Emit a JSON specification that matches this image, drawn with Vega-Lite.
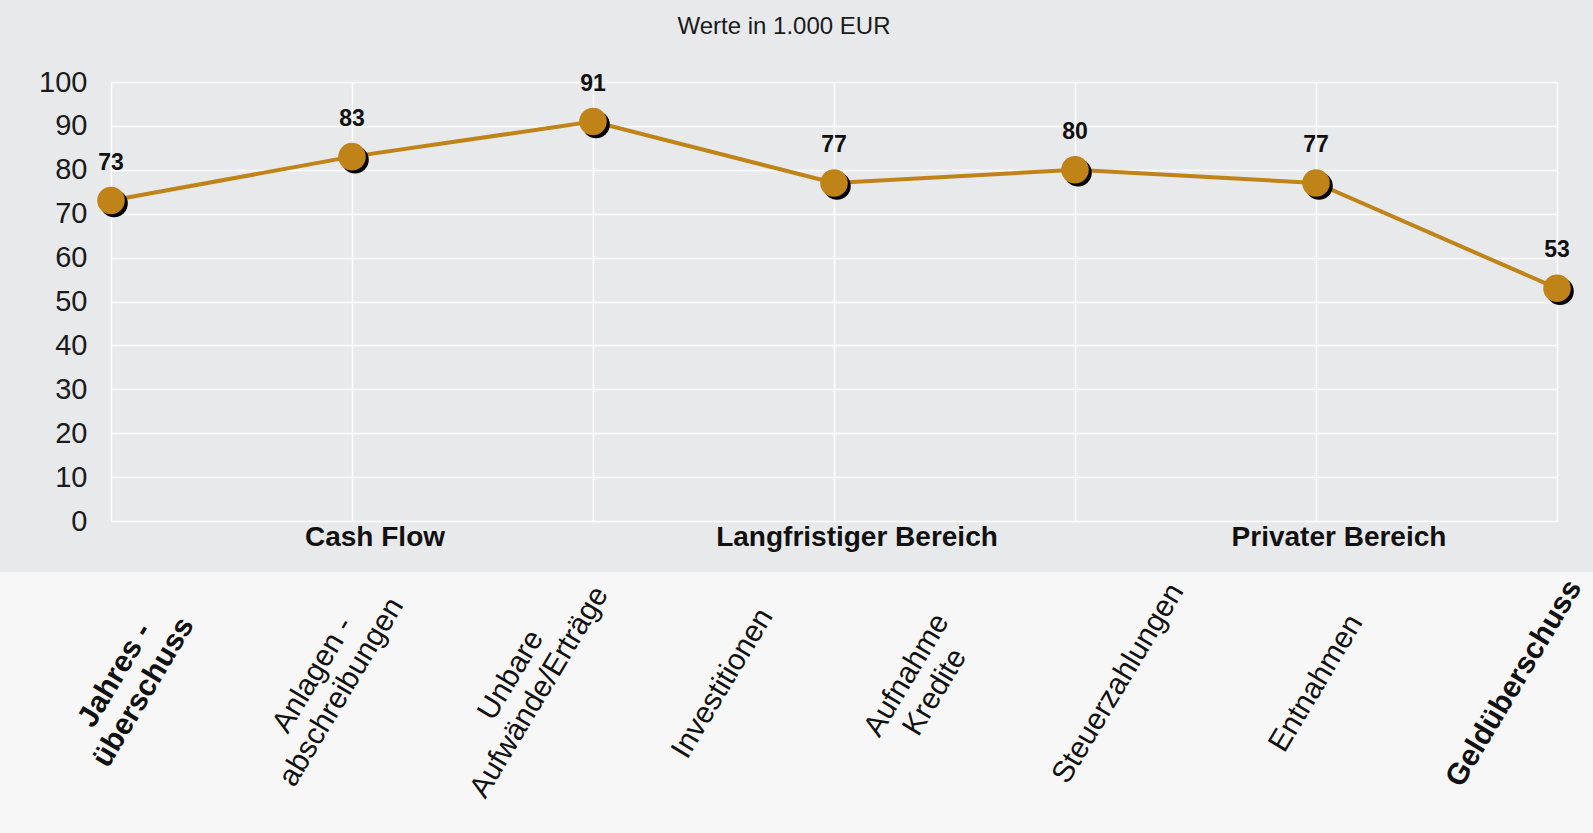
{
  "$schema": "https://vega.github.io/schema/vega-lite/v6.json",
  "width": 1446,
  "height": 439,
  "autosize": {"type": "none"},
  "padding": {"left": 111, "top": 82, "right": 36, "bottom": 312},
  "background": "#e8e9eb",
  "config": {
    "view": {"stroke": null},
    "font": "Liberation Sans",
    "axisY": {
      "grid": true,
      "gridColor": "#ffffff",
      "gridWidth": 1.5,
      "ticks": false,
      "domain": false,
      "labelFontSize": 29,
      "labelColor": "#1a1a1a",
      "labelPadding": 24,
      "labelFont": "Liberation Sans",
      "title": null
    }
  },
  "title": {
    "text": "Werte in 1.000 EUR",
    "fontSize": 24,
    "fontWeight": "normal",
    "font": "Liberation Sans",
    "color": "#1a1a1a",
    "anchor": "middle",
    "dx": -50,
    "offset": 5,
    "baseline": "bottom"
  },
  "datasets": {
    "werte": [
      {"schritt": 1, "wert": 73},
      {"schritt": 2, "wert": 83},
      {"schritt": 3, "wert": 91},
      {"schritt": 4, "wert": 77},
      {"schritt": 5, "wert": 80},
      {"schritt": 6, "wert": 77},
      {"schritt": 7, "wert": 53}
    ],
    "posten": [
      {"posten": "Jahres -\nüberschuss", "typ": "Summe"},
      {"posten": "Anlagen -\nabschreibungen", "typ": "Posten"},
      {"posten": "Unbare\nAufwände/Erträge", "typ": "Posten"},
      {"posten": "Investitionen", "typ": "Posten"},
      {"posten": "Aufnahme\nKredite", "typ": "Posten"},
      {"posten": "Steuerzahlungen", "typ": "Posten"},
      {"posten": "Entnahmen", "typ": "Posten"},
      {"posten": "Geldüberschuss", "typ": "Summe"}
    ],
    "bereiche": [
      {"bereich": "Cash Flow", "schritt": 2},
      {"bereich": "Langfristiger Bereich", "schritt": 4},
      {"bereich": "Privater Bereich", "schritt": 6}
    ]
  },
  "resolve": {"scale": {"x": "independent"}},
  "layer": [
    {
      "data": {"values": [{}]},
      "mark": {"type": "rect", "color": "#f7f7f7"},
      "encoding": {
        "x": {"datum": -0.1, "type": "quantitative", "scale": {"domain": [0, 1]}, "axis": null},
        "x2": {"datum": 1.1},
        "y": {"datum": -11.6, "type": "quantitative", "scale": {"domain": [0, 100], "nice": false}},
        "y2": {"datum": -90}
      }
    },
    {
      "data": {"name": "werte"},
      "encoding": {
        "x": {
          "field": "schritt",
          "type": "ordinal",
          "scale": {"type": "point", "padding": 0, "domain": [1, 2, 3, 4, 5, 6, 7]},
          "axis": {"grid": true, "gridColor": "#ffffff", "gridWidth": 1.5, "labels": false, "ticks": false, "domain": false, "title": null}
        },
        "y": {
          "field": "wert",
          "type": "quantitative",
          "scale": {"domain": [0, 100], "nice": false},
          "axis": {"values": [0, 10, 20, 30, 40, 50, 60, 70, 80, 90, 100], "title": null}
        }
      },
      "layer": [
        {"mark": {"type": "line", "color": "#bf8317", "strokeWidth": 4}},
        {"mark": {"type": "circle", "size": 760, "color": "#000000", "opacity": 1, "xOffset": 3, "yOffset": 3}},
        {"mark": {"type": "circle", "size": 760, "color": "#bf8317", "opacity": 1}},
        {
          "mark": {"type": "text", "fontSize": 23, "fontWeight": "bold", "dy": -38, "color": "#111111", "baseline": "middle"},
          "encoding": {"text": {"field": "wert", "type": "quantitative"}}
        }
      ]
    },
    {
      "data": {"name": "posten"},
      "transform": [{"filter": "datum.typ == 'Summe' && indexof(datum.posten, '\\n') < 0"}],
      "mark": {"type": "text", "angle": -59, "align": "center", "baseline": "middle", "fontSize": 30, "fontWeight": "bold", "lineBreak": "\n", "lineHeight": 33, "color": "#111111"},
      "encoding": {
        "x": {
          "field": "posten",
          "type": "nominal",
          "scale": {"type": "point", "padding": 0, "range": [18, 1403], "domain": ["Jahres -\nüberschuss", "Anlagen -\nabschreibungen", "Unbare\nAufwände/Erträge", "Investitionen", "Aufnahme\nKredite", "Steuerzahlungen", "Entnahmen", "Geldüberschuss"]},
          "axis": null
        },
        "y": {"datum": -37, "type": "quantitative", "scale": {"domain": [0, 100], "nice": false}},
        "text": {"field": "posten", "type": "nominal"}
      }
    },
    {
      "data": {"name": "posten"},
      "transform": [{"filter": "datum.typ == 'Summe' && indexof(datum.posten, '\\n') >= 0"}],
      "mark": {"type": "text", "angle": -59, "align": "center", "baseline": "middle", "fontSize": 30, "fontWeight": "bold", "lineBreak": "\n", "lineHeight": 33, "dy": -16, "color": "#111111"},
      "encoding": {
        "x": {
          "field": "posten",
          "type": "nominal",
          "scale": {"type": "point", "padding": 0, "range": [18, 1403], "domain": ["Jahres -\nüberschuss", "Anlagen -\nabschreibungen", "Unbare\nAufwände/Erträge", "Investitionen", "Aufnahme\nKredite", "Steuerzahlungen", "Entnahmen", "Geldüberschuss"]},
          "axis": null
        },
        "y": {"datum": -37, "type": "quantitative", "scale": {"domain": [0, 100], "nice": false}},
        "text": {"field": "posten", "type": "nominal"}
      }
    },
    {
      "data": {"name": "posten"},
      "transform": [{"filter": "datum.typ != 'Summe' && indexof(datum.posten, '\\n') < 0"}],
      "mark": {"type": "text", "angle": -59, "align": "center", "baseline": "middle", "fontSize": 30, "fontWeight": "normal", "lineBreak": "\n", "lineHeight": 33, "color": "#111111"},
      "encoding": {
        "x": {
          "field": "posten",
          "type": "nominal",
          "scale": {"type": "point", "padding": 0, "range": [18, 1403], "domain": ["Jahres -\nüberschuss", "Anlagen -\nabschreibungen", "Unbare\nAufwände/Erträge", "Investitionen", "Aufnahme\nKredite", "Steuerzahlungen", "Entnahmen", "Geldüberschuss"]},
          "axis": null
        },
        "y": {"datum": -37, "type": "quantitative", "scale": {"domain": [0, 100], "nice": false}},
        "text": {"field": "posten", "type": "nominal"}
      }
    },
    {
      "data": {"name": "posten"},
      "transform": [{"filter": "datum.typ != 'Summe' && indexof(datum.posten, '\\n') >= 0"}],
      "mark": {"type": "text", "angle": -59, "align": "center", "baseline": "middle", "fontSize": 30, "fontWeight": "normal", "lineBreak": "\n", "lineHeight": 33, "dy": -16, "color": "#111111"},
      "encoding": {
        "x": {
          "field": "posten",
          "type": "nominal",
          "scale": {"type": "point", "padding": 0, "range": [18, 1403], "domain": ["Jahres -\nüberschuss", "Anlagen -\nabschreibungen", "Unbare\nAufwände/Erträge", "Investitionen", "Aufnahme\nKredite", "Steuerzahlungen", "Entnahmen", "Geldüberschuss"]},
          "axis": null
        },
        "y": {"datum": -37, "type": "quantitative", "scale": {"domain": [0, 100], "nice": false}},
        "text": {"field": "posten", "type": "nominal"}
      }
    },
    {
      "data": {"name": "bereiche"},
      "mark": {"type": "text", "fontSize": 28, "fontWeight": "bold", "baseline": "middle", "align": "center", "dx": 23, "color": "#111111"},
      "encoding": {
        "x": {
          "field": "schritt",
          "type": "ordinal",
          "scale": {"type": "point", "padding": 0, "domain": [1, 2, 3, 4, 5, 6, 7]},
          "axis": null
        },
        "y": {"datum": -3.9, "type": "quantitative", "scale": {"domain": [0, 100], "nice": false}},
        "text": {"field": "bereich", "type": "nominal"}
      }
    }
  ]
}
